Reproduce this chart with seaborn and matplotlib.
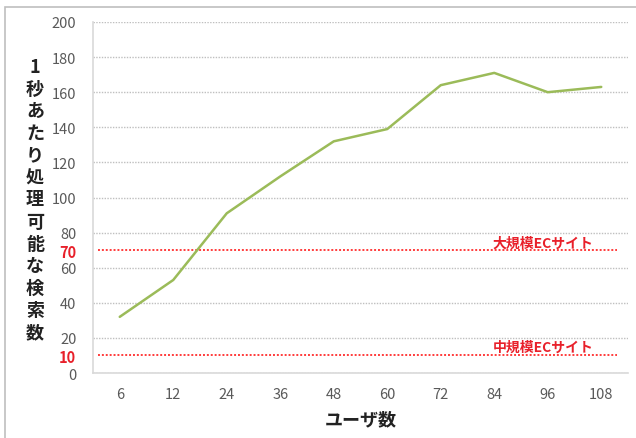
import matplotlib
matplotlib.use("Agg")
import matplotlib.pyplot as plt
import seaborn as sns
import pandas as pd
from matplotlib.patches import Rectangle

users = ["6", "12", "24", "36", "48", "60", "72", "84", "96", "108"]
searches = [32, 53, 91, 112, 132, 139, 164, 171, 160, 163]
large_ec = 70
mid_ec = 10
y_ticks = [0, 10, 20, 40, 60, 70, 80, 100, 120, 140, 160, 180, 200]
grid_ticks = [0, 20, 40, 60, 80, 100, 120, 140, 160, 180, 200]
ylabel_text = "1秒あたり処理可能な検索数"
xlabel_text = "ユーザ数"
large_label = "大規模ECサイト"
mid_label = "中規模ECサイト"

sns.set_theme(style="white")
plt.rcParams['font.family'] = ['Noto Sans CJK JP', 'DejaVu Sans']

df = pd.DataFrame({"users": users, "searches": searches})

fig = plt.figure(figsize=(6.36, 4.39), dpi=100)
ax = fig.add_axes([93/636, 1-374/439, (628-93)/636, (374-23)/439])

# outer frame
fig.patches.append(Rectangle((5/636, -0.1), 1.2, 1 - 8/439 + 0.1, transform=fig.transFigure,
                             fill=False, edgecolor="#BFBFBF", linewidth=1.2, zorder=0))

for g in grid_ticks:
    ax.axhline(g, color="#BFBFBF", linestyle=(0, (1, 1)), linewidth=1.0, zorder=1)
for v in (large_ec, mid_ec):
    ax.axhline(v, xmin=0.009, xmax=0.979, color="#FF3B3B", linestyle=(0, (1, 1)),
               linewidth=1.4, zorder=2)

sns.lineplot(data=df, x="users", y="searches", sort=False, color="#9BBB59",
             linewidth=1.8, ax=ax, zorder=3)

ax.set_xlim(-0.5, len(users) - 0.5)
ax.set_ylim(0, 200)
ax.set_yticks(y_ticks)
ax.set_yticklabels([str(t) for t in y_ticks])
for lab, t in zip(ax.get_yticklabels(), y_ticks):
    if t in (large_ec, mid_ec):
        lab.set_color("#E8202A")
        lab.set_fontweight("bold")
    else:
        lab.set_color("#595959")
    lab.set_fontsize(10.5)
for lab in ax.get_xticklabels():
    lab.set_color("#595959")
    lab.set_fontsize(10.5)
ax.tick_params(axis="both", length=0)
ax.tick_params(axis="y", pad=12)
ax.tick_params(axis="x", pad=10)

for s in ("top", "right"):
    ax.spines[s].set_visible(False)
for s in ("left", "bottom"):
    ax.spines[s].set_color("#D9D9D9")
    ax.spines[s].set_linewidth(1.2)

ax.set_xlabel(xlabel_text, fontsize=13, fontweight="bold", color="#222222", labelpad=6)
ax.set_ylabel("")
fig.text(35/636, 1-200/439, "\n".join(ylabel_text), ha="center", va="center",
         fontsize=13, fontweight="bold", color="#222222", linespacing=1.21)

ax.text(8.85, large_ec + 4.5, large_label, ha="right", va="center", color="#E8202A",
        fontsize=10, fontweight="bold")
ax.text(8.85, mid_ec + 5, mid_label, ha="right", va="center", color="#E8202A",
        fontsize=10, fontweight="bold")

fig.savefig("out.png", dpi=100)
